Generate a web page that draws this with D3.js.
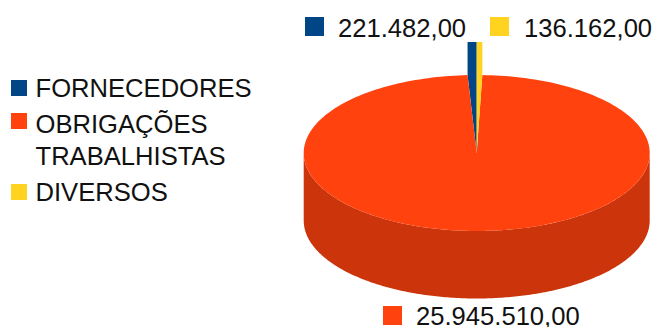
<!DOCTYPE html>
<html>
<head>
<meta charset="utf-8">
<script src="https://cdnjs.cloudflare.com/ajax/libs/d3/7.8.5/d3.min.js"></script>
<style>
html, body { margin: 0; padding: 0; background: #fff; }
text { font-family: "Liberation Sans", Arial, sans-serif; font-size: 25.6px; fill: #111; }
</style>
</head>
<body>
<svg id="chart" width="653" height="327"></svg>
<script>
// Debt composition, drawn as an extruded pie
const categories = ["FORNECEDORES", "OBRIGAÇÕES TRABALHISTAS", "DIVERSOS"];
const values = [221482, 25945510, 136162];
const valueLabels = ["221.482,00", "25.945.510,00", "136.162,00"];
const colors = ["#004586", "#ff420e", "#ffd320"];
const sideColor = "#cc350b";

const svg = d3.select("#chart");

// Ellipse projection of the tilted disc
const cx = 476.7, cy = 153, rx = 173, ry = 78, depth = 67.5, liftSmall = 33;
const px = d3.scaleLinear().domain([-1, 1]).range([cx - rx, cx + rx]);
const py = d3.scaleLinear().domain([-1, 1]).range([cy + ry, cy - ry]);

// Slices run counter-clockwise from twelve o'clock
const slices = d3.pie().sort(null).value(d => d).startAngle(0).endAngle(-2 * Math.PI)(values);

const rimPoints = (a0, a1) => d3.range(0, 241).map(i => {
  const a = a0 + (a1 - a0) * i / 240;
  return [px(Math.sin(a)), py(Math.cos(a))];
});
const line = d3.line();

// Visible outer wall of the large slice
const wallTop = rimPoints(Math.PI / 2, 3 * Math.PI / 2);
const wallBottom = wallTop.map(([x, y]) => [x, y + depth]).reverse();
svg.append("path")
  .attr("d", line(wallTop.concat(wallBottom)) + "Z")
  .attr("fill", sideColor);

// Top faces; the two thin slices stand up past the rim with a flat top edge
slices.forEach((s, i) => {
  const rim = rimPoints(s.startAngle, s.endAngle);
  const top = d3.min(rim, p => p[1]) - liftSmall;
  const outline = i === 1
    ? [[cx, cy], ...rim]
    : [[cx, cy], rim[0], [rim[0][0], top], [rim[240][0], top], rim[240]];
  svg.append("path")
    .attr("d", line(outline) + "Z")
    .attr("fill", colors[i]);
});

// Legend on the left
const legendRows = [
  { key: 0, lines: [categories[0]], box: 80, base: [97] },
  { key: 1, lines: ["OBRIGAÇÕES", "TRABALHISTAS"], box: 113, base: [133, 165] },
  { key: 2, lines: [categories[2]], box: 184, base: [201] }
];
legendRows.forEach(r => {
  svg.append("rect").attr("x", 11).attr("y", r.box).attr("width", 16).attr("height", 16).attr("fill", colors[r.key]);
  r.lines.forEach((t, j) => svg.append("text").attr("x", 35.5).attr("y", r.base[j]).text(t));
});

// Value labels with their colour keys
const valueKeys = [
  { key: 0, bx: 305, by: 17, tx: 338, ty: 37 },
  { key: 2, bx: 490, by: 17, tx: 524, ty: 37 },
  { key: 1, bx: 383, by: 306, tx: 416, ty: 324.5 }
];
valueKeys.forEach(v => {
  svg.append("rect").attr("x", v.bx).attr("y", v.by).attr("width", 19).attr("height", 19).attr("fill", colors[v.key]);
  svg.append("text").attr("x", v.tx).attr("y", v.ty).text(valueLabels[v.key]);
});
</script>
</body>
</html>
